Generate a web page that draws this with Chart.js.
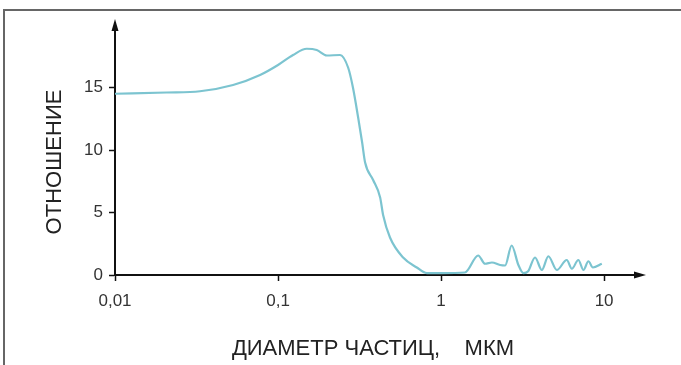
<!DOCTYPE html>
<html>
<head>
<meta charset="utf-8">
<script src="https://cdn.jsdelivr.net/npm/chart.js@4.4.1/dist/chart.umd.min.js"></script>
<style>
  body { margin: 0; background: #fff; }
  #wrap { position: relative; width: 681px; height: 365px; }
  #frame {
    position: absolute; left: 3px; top: 9px; right: 0; bottom: 0;
    border-top: 2px solid #666; border-left: 2px solid #666;
    pointer-events: none;
  }
</style>
</head>
<body>
<div id="wrap">
  <canvas id="myChart" width="681" height="365"></canvas>
  <div id="frame"></div>
</div>
<script>
// particle diameter, um (log axis)
var diameters = [0.01, 0.0207, 0.0332, 0.053, 0.0776, 0.1, 0.1236, 0.15, 0.1727, 0.199, 0.24,
  0.269, 0.288, 0.31, 0.328, 0.342, 0.383, 0.423, 0.441, 0.486, 0.585, 0.71, 0.817, 1.0,
  1.40, 1.69, 1.86, 2.05, 2.30, 2.47, 2.71, 2.98, 3.20, 3.42, 3.77, 4.15, 4.55, 5.13,
  5.90, 6.34, 6.95, 7.47, 8.01, 8.53, 9.68];
// ratio
var ratios = [14.5, 14.6, 14.7, 15.2, 16.0, 16.8, 17.6, 18.1, 18.0, 17.56, 17.6,
  16.6, 15.0, 12.6, 10.6, 9.0, 7.6, 6.2, 4.8, 3.0, 1.4, 0.6, 0.15, 0.15,
  0.2, 1.56, 0.9, 1.0, 0.8, 0.76, 2.36, 0.8, 0.15, 0.3, 1.4, 0.4, 1.5, 0.4,
  1.2, 0.5, 1.2, 0.4, 1.1, 0.6, 0.9];

var xTickValues = [0.01, 0.1, 1, 10];
var xTickLabels = ['0,01', '0,1', '1', '10'];
var yTickValues = [0, 5, 10, 15];

var xTitle = 'ДИАМЕТР ЧАСТИЦ,    МКМ';
var yTitle = 'ОТНОШЕНИЕ';

var points = diameters.map(function (d, i) { return { x: d, y: ratios[i] }; });

var axisDecor = {
  id: 'axisDecor',
  afterDraw: function (chart) {
    var ctx = chart.ctx;
    var a = chart.chartArea;
    ctx.save();
    ctx.fillStyle = '#111';
    // y arrow
    ctx.beginPath();
    ctx.moveTo(a.left, a.top - 6);
    ctx.lineTo(a.left - 3.5, a.top + 6);
    ctx.lineTo(a.left + 3.5, a.top + 6);
    ctx.closePath();
    ctx.fill();
    // x arrow
    ctx.beginPath();
    ctx.moveTo(a.right + 6, a.bottom);
    ctx.lineTo(a.right - 6, a.bottom - 3.5);
    ctx.lineTo(a.right - 6, a.bottom + 3.5);
    ctx.closePath();
    ctx.fill();

    // axis titles
    ctx.fillStyle = '#222';
    ctx.font = '22px "Liberation Sans", Arial, sans-serif';
    ctx.textAlign = 'center';
    ctx.textBaseline = 'middle';
    ctx.fillText(xTitle, 373, 349);
    ctx.translate(55, 162);
    ctx.rotate(-Math.PI / 2);
    ctx.fillText(yTitle, 0, 0);
    ctx.restore();
  }
};

var ctx = document.getElementById('myChart');
var myChart = new Chart(ctx, {
  type: 'line',
  data: {
    datasets: [{
      data: points,
      borderColor: '#7cc4d0',
      borderWidth: 2.2,
      pointRadius: 0,
      cubicInterpolationMode: 'monotone',
      fill: false
    }]
  },
  options: {
    responsive: false,
    animation: false,
    layout: { padding: { left: 0, right: 41, top: 25, bottom: 0 } },
    plugins: {
      legend: { display: false },
      tooltip: { enabled: false }
    },
    scales: {
      x: {
        type: 'logarithmic',
        min: 0.01,
        max: 16.6,
        afterBuildTicks: function (scale) {
          scale.ticks = xTickValues.map(function (v) { return { value: v }; });
        },
        afterFit: function (scale) { scale.height = 90; },
        grid: {
          drawOnChartArea: false,
          drawTicks: true,
          tickLength: 6,
          tickWidth: 1.5,
          tickColor: '#111'
        },
        border: { display: true, color: '#111', width: 2 },
        ticks: {
          autoSkip: false,
          maxRotation: 0,
          padding: 10,
          color: '#333',
          font: { family: '"Liberation Sans", Arial, sans-serif', size: 17 },
          callback: function (val, index) { return xTickLabels[index]; }
        }
      },
      y: {
        min: 0,
        max: 20,
        afterBuildTicks: function (scale) {
          scale.ticks = yTickValues.map(function (v) { return { value: v }; });
        },
        afterFit: function (scale) { scale.width = 115; },
        grid: {
          drawOnChartArea: false,
          drawTicks: true,
          tickLength: 6,
          tickWidth: 1.5,
          tickColor: '#111'
        },
        border: { display: true, color: '#111', width: 2 },
        ticks: {
          padding: 6,
          color: '#333',
          font: { family: '"Liberation Sans", Arial, sans-serif', size: 17 }
        }
      }
    }
  },
  plugins: [axisDecor]
});
</script>
</body>
</html>
